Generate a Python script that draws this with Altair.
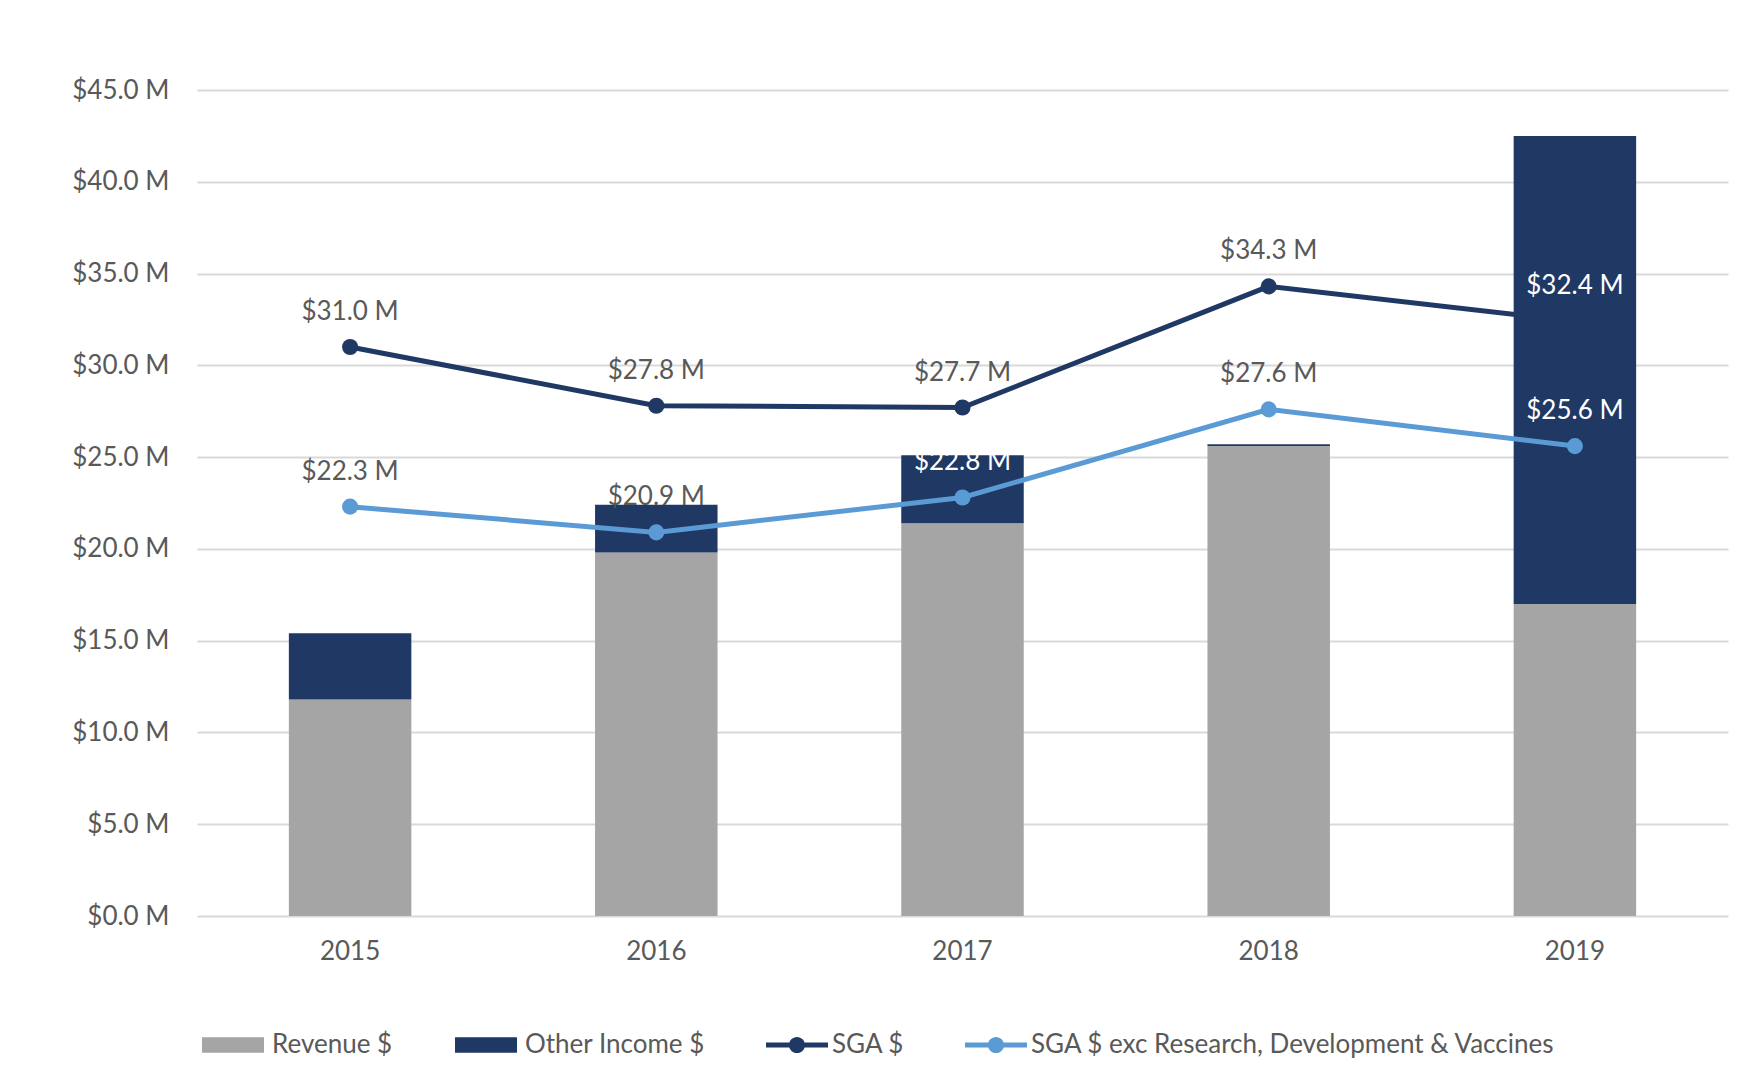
import altair as alt
import pandas as pd

years = ["2015", "2016", "2017", "2018", "2019"]
revenue = [11.8, 19.8, 21.4, 25.6, 17.0]
other_income = [3.6, 2.6, 3.7, 0.1, 25.5]
sga = [31.0, 27.8, 27.7, 34.3, 32.4]
sga_exc = [22.3, 20.9, 22.8, 27.6, 25.6]
# label colours: white where the label sits on a navy bar
sga_label_col = ["#595959", "#595959", "#595959", "#595959", "#ffffff"]
sga_exc_label_col = ["#595959", "#595959", "#ffffff", "#595959", "#ffffff"]

bar_series = ["Revenue $", "Other Income $"]
line_series = ["SGA $", "SGA $ exc Research, Development & Vaccines"]

NAVY = "#203864"
GRAY = "#a5a5a5"
LIGHT = "#5b9bd5"
TXT = "#595959"
FONT = "Lato"
FS = 26

bars = pd.DataFrame(
    [{"year": y, "series": bar_series[0], "value": r, "ord": 0} for y, r in zip(years, revenue)]
    + [{"year": y, "series": bar_series[1], "value": o, "ord": 1} for y, o in zip(years, other_income)]
)
lines = pd.DataFrame(
    [{"year": y, "series": line_series[0], "value": v, "lc": c} for y, v, c in zip(years, sga, sga_label_col)]
    + [{"year": y, "series": line_series[1], "value": v, "lc": c} for y, v, c in zip(years, sga_exc, sga_exc_label_col)]
)
lines["label"] = lines["value"].map(lambda v: f"${v:.1f} M")

xenc = alt.X(
    "year:N",
    scale=alt.Scale(paddingInner=0.6, paddingOuter=0.3),
    axis=alt.Axis(title=None, labelAngle=0, ticks=False, domain=False,
                  labelPadding=22, labelFont=FONT, labelFontSize=FS, labelColor=TXT),
)
yscale = alt.Scale(domain=[0, 45], nice=False)

rect_path = "M-1,-0.25L1,-0.25L1,0.25L-1,0.25Z"
line_path = ("M-1,-0.08L1,-0.08L1,0.08L-1,0.08Z"
             "M0.26,0A0.26,0.26 0 1,1 -0.26,0A0.26,0.26 0 1,1 0.26,0Z")

bar_layer = alt.Chart(bars).mark_bar().encode(
    x=xenc,
    y=alt.Y(
        "value:Q", stack="zero", scale=yscale,
        axis=alt.Axis(title=None, values=list(range(0, 50, 5)), ticks=False, domain=False,
                      labelExpr='"$" + format(datum.value, ".1f") + " M"',
                      labelPadding=28, labelFont=FONT, labelFontSize=FS, labelColor=TXT,
                      gridColor="#d9d9d9", gridWidth=2),
    ),
    color=alt.Color(
        "series:N",
        scale=alt.Scale(domain=bar_series, range=[GRAY, NAVY]),
        legend=alt.Legend(orient="none", legendX=5, legendY=924, direction="horizontal",
                          title=None, symbolType=rect_path, symbolSize=3844,
                          symbolStrokeWidth=0, labelOffset=8, columnPadding=62, labelLimit=0,
                          labelFont=FONT, labelFontSize=FS, labelColor=TXT),
    ),
    order=alt.Order("ord:Q"),
)

line_layer = alt.Chart(lines).mark_line(strokeWidth=5).encode(
    x=xenc,
    y=alt.Y("value:Q", scale=yscale),
    color=alt.Color("series:N", scale=alt.Scale(domain=line_series, range=[NAVY, LIGHT]), legend=None),
    detail="series:N",
)

point_layer = alt.Chart(lines).mark_circle(size=260, opacity=1).encode(
    x=xenc,
    y=alt.Y("value:Q", scale=yscale),
    color=alt.Color(
        "series:N",
        scale=alt.Scale(domain=line_series, range=[NAVY, LIGHT]),
        legend=alt.Legend(orient="none", legendX=569, legendY=924, direction="horizontal",
                          title=None, symbolType=line_path, symbolSize=3844,
                          symbolStrokeWidth=0, symbolOpacity=1, labelOffset=4, columnPadding=60,
                          labelLimit=0,
                          labelFont=FONT, labelFontSize=FS, labelColor=TXT),
    ),
)

text_layer = alt.Chart(lines).mark_text(dy=-35, font=FONT, fontSize=FS, baseline="middle").encode(
    x=xenc,
    y=alt.Y("value:Q", scale=yscale),
    text="label:N",
    color=alt.Color("lc:N", scale=None),
)

chart = (
    alt.layer(bar_layer, line_layer, point_layer, text_layer)
    .resolve_scale(color="independent")
    .properties(
        width=1531, height=826,
        autosize=alt.AutoSizeParams(type="none"),
        padding={"left": 189, "top": 82, "right": 5, "bottom": 150},
        background="white",
    )
    .configure_view(stroke=None)
)

chart.save("out.html", embed_options={"renderer": "svg", "actions": False})
